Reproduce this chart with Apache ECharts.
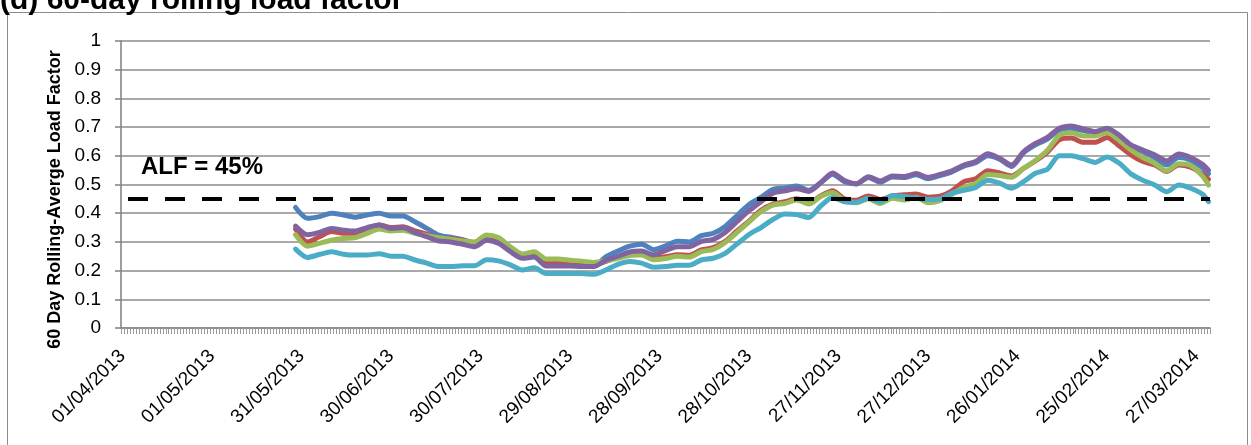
<!DOCTYPE html>
<html><head><meta charset="utf-8">
<script src="https://cdn.jsdelivr.net/npm/echarts@6/dist/echarts.min.js"></script>
<style>html,body{margin:0;padding:0;background:#fff}#c{width:1251px;height:445px}</style>
</head><body><div id="c"></div>
<script>
const TITLE = '(d) 60-day rolling load factor';
const Y_NAME = '60 Day Rolling-Averge Load Factor';
const START_YEAR = 2013, START_MONTH = 4, START_DAY = 1; // 01/04/2013
const DAY_COUNT = 365;            // 01/04/2013 .. 31/03/2014
const LABEL_EVERY = 30;           // a date label every 30 days
const ALF = 0.45;
const ALF_LABEL = 'ALF = 45%';
const seriesNames = ['Series 1', 'Series 2', 'Series 3', 'Series 4', 'Series 5'];
const seriesColors = ['#4F81BD', '#C0504D', '#9BBB59', '#8064A2', '#4BACC6'];

// day index (0 = 01/04/2013) of each reading
const sampleDay = [58,62,66,70,74,78,82,86,90,94,98,102,106,110,114,118,122,126,130,134,138,142,146,150,154,158,162,166,170,174,178,182,186,190,194,198,202,206,210,214,218,222,226,230,234,238,242,246,250,254,258,262,266,270,274,278,282,286,290,294,298,302,306,310,314,318,322,326,330,334,338,342,346,350,354,358,362,364];

const blue = [0.420,0.382,0.388,0.400,0.394,0.386,0.394,0.400,0.390,0.390,0.370,0.347,0.324,0.316,0.308,0.297,0.312,0.302,0.274,0.248,0.250,0.220,0.220,0.219,0.218,0.216,0.248,0.268,0.285,0.292,0.273,0.286,0.302,0.300,0.322,0.330,0.354,0.392,0.430,0.455,0.483,0.488,0.495,0.480,0.506,0.536,0.510,0.502,0.524,0.508,0.526,0.524,0.534,0.520,0.531,0.544,0.564,0.576,0.600,0.588,0.563,0.610,0.638,0.658,0.690,0.696,0.688,0.678,0.688,0.664,0.630,0.614,0.593,0.568,0.594,0.585,0.558,0.538];
const red = [0.345,0.300,0.318,0.336,0.330,0.330,0.347,0.359,0.350,0.353,0.338,0.327,0.315,0.312,0.306,0.297,0.315,0.306,0.278,0.250,0.255,0.225,0.225,0.222,0.222,0.220,0.232,0.248,0.260,0.262,0.245,0.248,0.255,0.253,0.272,0.280,0.302,0.338,0.372,0.410,0.432,0.440,0.450,0.435,0.460,0.478,0.450,0.445,0.460,0.448,0.460,0.464,0.467,0.456,0.459,0.478,0.510,0.520,0.548,0.540,0.530,0.556,0.582,0.613,0.656,0.662,0.647,0.647,0.664,0.635,0.603,0.580,0.568,0.545,0.568,0.560,0.536,0.518];
const green = [0.325,0.285,0.295,0.306,0.312,0.315,0.330,0.345,0.338,0.341,0.330,0.322,0.315,0.309,0.303,0.300,0.324,0.315,0.283,0.258,0.266,0.240,0.240,0.236,0.233,0.228,0.234,0.243,0.253,0.254,0.238,0.242,0.250,0.247,0.266,0.274,0.298,0.333,0.370,0.405,0.428,0.434,0.446,0.432,0.458,0.472,0.445,0.436,0.450,0.434,0.452,0.446,0.456,0.436,0.444,0.466,0.490,0.504,0.535,0.531,0.525,0.556,0.584,0.619,0.671,0.680,0.669,0.669,0.681,0.654,0.620,0.594,0.574,0.547,0.572,0.566,0.529,0.498];
const purple = [0.355,0.325,0.333,0.347,0.341,0.338,0.350,0.359,0.347,0.350,0.333,0.318,0.303,0.300,0.292,0.283,0.306,0.295,0.266,0.243,0.247,0.216,0.216,0.216,0.214,0.214,0.236,0.250,0.265,0.268,0.255,0.270,0.283,0.283,0.302,0.309,0.333,0.371,0.409,0.440,0.470,0.478,0.485,0.476,0.506,0.540,0.514,0.503,0.527,0.512,0.530,0.528,0.538,0.525,0.535,0.548,0.568,0.580,0.607,0.591,0.568,0.614,0.643,0.664,0.696,0.704,0.694,0.684,0.696,0.672,0.638,0.620,0.603,0.582,0.606,0.594,0.570,0.550];
const cyan = [0.275,0.246,0.256,0.266,0.257,0.254,0.254,0.259,0.250,0.250,0.237,0.226,0.214,0.214,0.217,0.217,0.238,0.234,0.220,0.202,0.210,0.190,0.190,0.190,0.190,0.187,0.202,0.222,0.232,0.226,0.212,0.214,0.219,0.219,0.237,0.243,0.260,0.293,0.326,0.350,0.378,0.397,0.395,0.385,0.425,0.455,0.440,0.438,0.452,0.440,0.462,0.458,0.453,0.448,0.450,0.470,0.480,0.490,0.515,0.505,0.487,0.510,0.539,0.553,0.600,0.600,0.590,0.577,0.596,0.575,0.537,0.515,0.498,0.475,0.498,0.487,0.466,0.440];

const seriesValues = [blue, red, green, purple, cyan];

// category axis: one category per day
const pad = n => (n < 10 ? '0' : '') + n;
const categories = [];
for (let i = 0; i < DAY_COUNT; i++) {
  const d = new Date(Date.UTC(START_YEAR, START_MONTH - 1, START_DAY + i));
  categories.push(pad(d.getUTCDate()) + '/' + pad(d.getUTCMonth() + 1) + '/' + d.getUTCFullYear());
}

const FONT = '"Liberation Sans", Arial, sans-serif';
const chart = echarts.init(document.getElementById('c'), null, {renderer: 'canvas'});

const series = seriesValues.map((vals, k) => ({
  name: seriesNames[k],
  type: 'line',
  data: sampleDay.map((d, i) => [d, vals[i]]),
  showSymbol: false,
  smooth: 0.25,
  lineStyle: {color: seriesColors[k], width: 5, cap: 'round', join: 'round'},
  itemStyle: {color: seriesColors[k]},
  animation: false,
  z: 2
}));
series.push({
  name: 'ALF',
  type: 'line',
  data: [],
  animation: false,
  z: 3,
  markLine: {
    silent: true,
    animation: false,
    symbol: ['none', 'none'],
    lineStyle: {color: '#000', type: [20, 17], dashOffset: 30, width: 4},
    label: {
      show: true, position: 'insideStartTop', formatter: ALF_LABEL,
      color: '#000', fontSize: 24, fontWeight: 'bold', fontFamily: FONT,
      distance: [20, 19]
    },
    emphasis: {disabled: true},
    data: [{yAxis: ALF}]
  }
});

chart.setOption({
  backgroundColor: '#fff',
  animation: false,
  title: {
    text: TITLE, left: 0, top: -14, padding: 0,
    textStyle: {fontFamily: FONT, fontSize: 30, fontWeight: 'bold', color: '#000'}
  },
  graphic: [{
    type: 'rect', silent: true, z: -10,
    shape: {x: 7.5, y: 12.5, width: 1240, height: 450},
    style: {fill: 'none', stroke: '#8c8c8c', lineWidth: 1}
  }],
  grid: {left: 121, right: 41, top: 41, bottom: 117},
  xAxis: {
    type: 'category',
    data: categories,
    boundaryGap: true,
    axisLine: {lineStyle: {color: '#868686', width: 1.6}},
    axisTick: {show: true, interval: 0, length: 6, lineStyle: {color: '#9a9a9a', width: 1}},
    axisLabel: {
      interval: LABEL_EVERY - 1, rotate: 45, margin: 25,
      color: '#000', fontSize: 19, fontFamily: FONT
    },
    splitLine: {show: false}
  },
  yAxis: {
    type: 'value', min: 0, max: 1, interval: 0.1,
    name: Y_NAME, nameLocation: 'middle', nameGap: 56,
    nameTextStyle: {fontFamily: FONT, fontSize: 18, fontWeight: 'bold', color: '#000', padding: [0, 30, 0, 0]},
    axisLine: {show: true, lineStyle: {color: '#868686', width: 1.6}},
    axisTick: {show: true, length: 6, lineStyle: {color: '#868686', width: 1.6}},
    axisLabel: {color: '#000', fontSize: 19, fontFamily: FONT, margin: 20},
    splitLine: {show: true, lineStyle: {color: '#8c8c8c', width: 1.6}}
  },
  series: series
});
</script></body></html>
